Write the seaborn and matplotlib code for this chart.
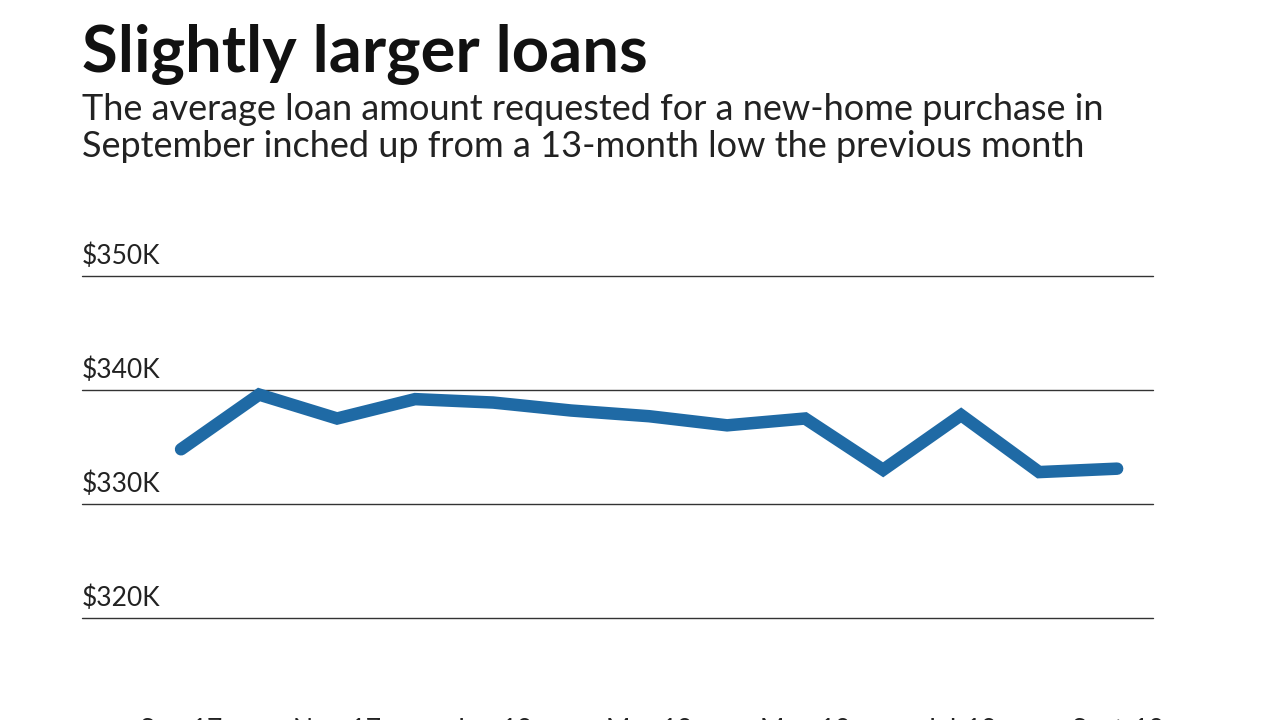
import matplotlib.pyplot as plt
import seaborn as sns
import pandas as pd

months = ['Sep-17', 'Oct-17', 'Nov-17', 'Dec-17', 'Jan-18', 'Feb-18', 'Mar-18',
          'Apr-18', 'May-18', 'Jun-18', 'Jul-18', 'Aug-18', 'Sept-18']
loan_k = [334.8, 339.6, 337.5, 339.2, 338.9, 338.2, 337.7,
          336.9, 337.5, 333.0, 337.8, 332.8, 333.1]
y_ticks = [320, 330, 340, 350]
y_labels = ['$320K', '$330K', '$340K', '$350K']

df = pd.DataFrame({'idx': range(len(months)), 'loan': loan_k})

sns.set_style('white')
plt.rcParams['font.family'] = ['Lato', 'DejaVu Sans']

fig = plt.figure(figsize=(12.8, 7.2), dpi=100)
ax = fig.add_axes([82 / 1280, 102 / 720, 1071 / 1280, 342 / 720])

for t, lab in zip(y_ticks, y_labels):
    ax.axhline(t, color='#333333', lw=1, clip_on=False, zorder=1)
    ax.text(-1.27, t + 0.6, lab, fontsize=19, color='#222222', va='bottom', ha='left')

sns.lineplot(data=df, x='idx', y='loan', ax=ax, color='#1f6aa5', lw=9,
             solid_capstyle='round', solid_joinstyle='miter', zorder=3)

ax.set_xlim(-1.27, 12.46)
ax.set_ylim(320, 350)
ax.set_yticks([])
ax.set_xticks(range(0, 13, 2))
ax.set_xticklabels(months[::2], fontsize=19, color='#222222')
ax.tick_params(axis='x', length=0, pad=72)
ax.set_xlabel('')
ax.set_ylabel('')
for s in ax.spines.values():
    s.set_visible(False)

fig.text(82 / 1280, 1 - 72 / 720, 'Slightly larger loans', fontsize=47,
         fontweight='bold', color='#111111', ha='left', va='baseline')
fig.text(82 / 1280, 1 - 157 / 720,
         'The average loan amount requested for a new-home purchase in\n'
         'September inched up from a 13-month low the previous month',
         fontsize=26, color='#222222', ha='left', va='baseline', linespacing=1.15)

fig.savefig('out.png', dpi=100)
